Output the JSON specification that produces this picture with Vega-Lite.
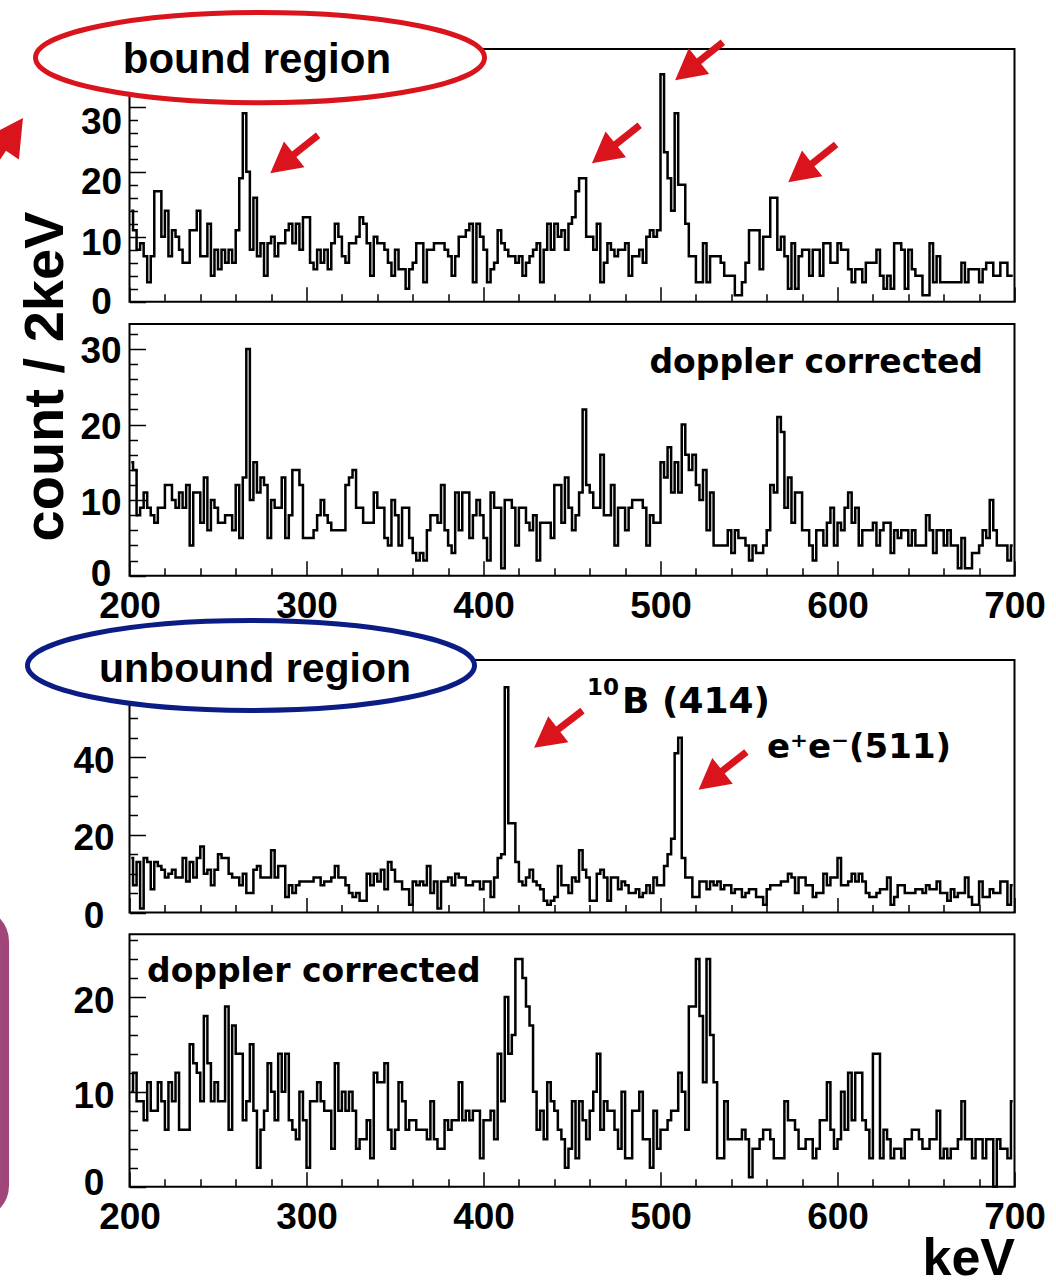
{
"$schema": "https://vega.github.io/schema/vega-lite/v6.json",
"width": 885, "height": 1137.7,
"autosize": {"type": "none"},
"padding": {"left": 129.5, "top": 49, "right": 41.5, "bottom": 99.3},
"background": "white",
"config": {
 "view": {"stroke": null},
 "axis": {"labelFont": "Liberation Sans", "labelFontWeight": "bold", "labelFontSize": 37, "labelColor": "black", "tickColor": "black", "tickWidth": 1.5, "domain": false, "grid": false, "labelOverlap": false, "labelFlush": false, "labelBound": false, "titleColor": "black"}
},
"datasets": {
"p1": [{"e":201,"c":14},{"e":203,"c":11},{"e":205,"c":8},{"e":207,"c":9},{"e":209,"c":7},{"e":211,"c":3},{"e":213,"c":7},{"e":215,"c":17},{"e":217,"c":17},{"e":219,"c":10},
{"e":221,"c":14},{"e":223,"c":7},{"e":225,"c":11},{"e":227,"c":10},{"e":229,"c":8},{"e":231,"c":6},{"e":233,"c":6},{"e":235,"c":11},{"e":237,"c":11},{"e":239,"c":14},
{"e":241,"c":7},{"e":243,"c":7},{"e":245,"c":12},{"e":247,"c":4},{"e":249,"c":8},{"e":251,"c":5},{"e":253,"c":8},{"e":255,"c":6},{"e":257,"c":8},{"e":259,"c":6},
{"e":261,"c":11},{"e":263,"c":19},{"e":265,"c":29},{"e":267,"c":20},{"e":269,"c":8},{"e":271,"c":16},{"e":273,"c":7},{"e":275,"c":9},{"e":277,"c":4},{"e":279,"c":9},
{"e":281,"c":10},{"e":283,"c":7},{"e":285,"c":9},{"e":287,"c":9},{"e":289,"c":11},{"e":291,"c":12},{"e":293,"c":9},{"e":295,"c":12},{"e":297,"c":8},{"e":299,"c":13},
{"e":301,"c":13},{"e":303,"c":6},{"e":305,"c":5},{"e":307,"c":8},{"e":309,"c":6},{"e":311,"c":8},{"e":313,"c":5},{"e":315,"c":9},{"e":317,"c":12},{"e":319,"c":10},
{"e":321,"c":7},{"e":323,"c":6},{"e":325,"c":9},{"e":327,"c":9},{"e":329,"c":10},{"e":331,"c":13},{"e":333,"c":12},{"e":335,"c":9},{"e":337,"c":4},{"e":339,"c":10},
{"e":341,"c":9},{"e":343,"c":9},{"e":345,"c":8},{"e":347,"c":6},{"e":349,"c":4},{"e":351,"c":8},{"e":353,"c":5},{"e":355,"c":5},{"e":357,"c":2},{"e":359,"c":5},
{"e":361,"c":6},{"e":363,"c":9},{"e":365,"c":9},{"e":367,"c":3},{"e":369,"c":8},{"e":371,"c":8},{"e":373,"c":9},{"e":375,"c":9},{"e":377,"c":9},{"e":379,"c":8},
{"e":381,"c":7},{"e":383,"c":4},{"e":385,"c":7},{"e":387,"c":10},{"e":389,"c":10},{"e":391,"c":11},{"e":393,"c":12},{"e":395,"c":3},{"e":397,"c":12},{"e":399,"c":10},
{"e":401,"c":8},{"e":403,"c":3},{"e":405,"c":5},{"e":407,"c":6},{"e":409,"c":11},{"e":411,"c":9},{"e":413,"c":8},{"e":415,"c":7},{"e":417,"c":7},{"e":419,"c":6},
{"e":421,"c":7},{"e":423,"c":4},{"e":425,"c":6},{"e":427,"c":7},{"e":429,"c":8},{"e":431,"c":9},{"e":433,"c":3},{"e":435,"c":8},{"e":437,"c":12},{"e":439,"c":8},
{"e":441,"c":12},{"e":443,"c":10},{"e":445,"c":11},{"e":447,"c":8},{"e":449,"c":12},{"e":451,"c":13},{"e":453,"c":17},{"e":455,"c":19},{"e":457,"c":19},{"e":459,"c":10},
{"e":461,"c":10},{"e":463,"c":8},{"e":465,"c":12},{"e":467,"c":3},{"e":469,"c":6},{"e":471,"c":9},{"e":473,"c":8},{"e":475,"c":7},{"e":477,"c":8},{"e":479,"c":8},
{"e":481,"c":9},{"e":483,"c":4},{"e":485,"c":7},{"e":487,"c":7},{"e":489,"c":8},{"e":491,"c":6},{"e":493,"c":10},{"e":495,"c":11},{"e":497,"c":10},{"e":499,"c":11},
{"e":501,"c":35},{"e":503,"c":23},{"e":505,"c":19},{"e":507,"c":14},{"e":509,"c":29},{"e":511,"c":18},{"e":513,"c":18},{"e":515,"c":12},{"e":517,"c":7},{"e":519,"c":7},
{"e":521,"c":3},{"e":523,"c":3},{"e":525,"c":9},{"e":527,"c":3},{"e":529,"c":7},{"e":531,"c":7},{"e":533,"c":7},{"e":535,"c":6},{"e":537,"c":4},{"e":539,"c":4},
{"e":541,"c":4},{"e":543,"c":1},{"e":545,"c":1},{"e":547,"c":3},{"e":549,"c":6},{"e":551,"c":11},{"e":553,"c":11},{"e":555,"c":11},{"e":557,"c":5},{"e":559,"c":10},
{"e":561,"c":10},{"e":563,"c":16},{"e":565,"c":16},{"e":567,"c":8},{"e":569,"c":10},{"e":571,"c":7},{"e":573,"c":2},{"e":575,"c":9},{"e":577,"c":2},{"e":579,"c":7},
{"e":581,"c":8},{"e":583,"c":8},{"e":585,"c":4},{"e":587,"c":8},{"e":589,"c":8},{"e":591,"c":4},{"e":593,"c":9},{"e":595,"c":9},{"e":597,"c":6},{"e":599,"c":6},
{"e":601,"c":9},{"e":603,"c":8},{"e":605,"c":8},{"e":607,"c":5},{"e":609,"c":3},{"e":611,"c":5},{"e":613,"c":5},{"e":615,"c":3},{"e":617,"c":6},{"e":619,"c":6},
{"e":621,"c":6},{"e":623,"c":8},{"e":625,"c":4},{"e":627,"c":2},{"e":629,"c":4},{"e":631,"c":2},{"e":633,"c":9},{"e":635,"c":9},{"e":637,"c":8},{"e":639,"c":2},
{"e":641,"c":8},{"e":643,"c":5},{"e":645,"c":4},{"e":647,"c":4},{"e":649,"c":1},{"e":651,"c":1},{"e":653,"c":9},{"e":655,"c":3},{"e":657,"c":7},{"e":659,"c":3},
{"e":661,"c":3},{"e":663,"c":3},{"e":665,"c":3},{"e":667,"c":3},{"e":669,"c":3},{"e":671,"c":6},{"e":673,"c":3},{"e":675,"c":5},{"e":677,"c":5},{"e":679,"c":5},
{"e":681,"c":3},{"e":683,"c":5},{"e":685,"c":6},{"e":687,"c":6},{"e":689,"c":4},{"e":691,"c":4},{"e":693,"c":6},{"e":695,"c":6},{"e":697,"c":4},{"e":699,"c":4}],
"p2": [{"e":201,"c":15},{"e":203,"c":14},{"e":205,"c":8},{"e":207,"c":9},{"e":209,"c":11},{"e":211,"c":9},{"e":213,"c":8},{"e":215,"c":7},{"e":217,"c":9},{"e":219,"c":9},
{"e":221,"c":12},{"e":223,"c":12},{"e":225,"c":10},{"e":227,"c":9},{"e":229,"c":11},{"e":231,"c":9},{"e":233,"c":12},{"e":235,"c":4},{"e":237,"c":11},{"e":239,"c":11},
{"e":241,"c":7},{"e":243,"c":13},{"e":245,"c":6},{"e":247,"c":10},{"e":249,"c":9},{"e":251,"c":7},{"e":253,"c":7},{"e":255,"c":8},{"e":257,"c":8},{"e":259,"c":6},
{"e":261,"c":12},{"e":263,"c":5},{"e":265,"c":13},{"e":267,"c":30},{"e":269,"c":10},{"e":271,"c":15},{"e":273,"c":11},{"e":275,"c":13},{"e":277,"c":12},{"e":279,"c":5},
{"e":281,"c":10},{"e":283,"c":9},{"e":285,"c":9},{"e":287,"c":13},{"e":289,"c":5},{"e":291,"c":8},{"e":293,"c":14},{"e":295,"c":14},{"e":297,"c":12},{"e":299,"c":5},
{"e":301,"c":5},{"e":303,"c":5},{"e":305,"c":6},{"e":307,"c":8},{"e":309,"c":10},{"e":311,"c":8},{"e":313,"c":7},{"e":315,"c":6},{"e":317,"c":6},{"e":319,"c":6},
{"e":321,"c":6},{"e":323,"c":12},{"e":325,"c":13},{"e":327,"c":14},{"e":329,"c":9},{"e":331,"c":9},{"e":333,"c":7},{"e":335,"c":7},{"e":337,"c":7},{"e":339,"c":11},
{"e":341,"c":9},{"e":343,"c":9},{"e":345,"c":5},{"e":347,"c":4},{"e":349,"c":10},{"e":351,"c":8},{"e":353,"c":4},{"e":355,"c":9},{"e":357,"c":9},{"e":359,"c":5},
{"e":361,"c":3},{"e":363,"c":2},{"e":365,"c":3},{"e":367,"c":2},{"e":369,"c":6},{"e":371,"c":8},{"e":373,"c":8},{"e":375,"c":7},{"e":377,"c":12},{"e":379,"c":6},
{"e":381,"c":4},{"e":383,"c":3},{"e":385,"c":11},{"e":387,"c":6},{"e":389,"c":11},{"e":391,"c":11},{"e":393,"c":5},{"e":395,"c":8},{"e":397,"c":10},{"e":399,"c":8},
{"e":401,"c":5},{"e":403,"c":2},{"e":405,"c":11},{"e":407,"c":9},{"e":409,"c":9},{"e":411,"c":1},{"e":413,"c":10},{"e":415,"c":10},{"e":417,"c":9},{"e":419,"c":4},
{"e":421,"c":9},{"e":423,"c":9},{"e":425,"c":7},{"e":427,"c":6},{"e":429,"c":8},{"e":431,"c":2},{"e":433,"c":7},{"e":435,"c":7},{"e":437,"c":7},{"e":439,"c":5},
{"e":441,"c":12},{"e":443,"c":12},{"e":445,"c":7},{"e":447,"c":13},{"e":449,"c":9},{"e":451,"c":6},{"e":453,"c":8},{"e":455,"c":11},{"e":457,"c":22},{"e":459,"c":12},
{"e":461,"c":11},{"e":463,"c":9},{"e":465,"c":9},{"e":467,"c":16},{"e":469,"c":8},{"e":471,"c":8},{"e":473,"c":12},{"e":475,"c":4},{"e":477,"c":9},{"e":479,"c":9},
{"e":481,"c":6},{"e":483,"c":9},{"e":485,"c":10},{"e":487,"c":10},{"e":489,"c":10},{"e":491,"c":9},{"e":493,"c":4},{"e":495,"c":8},{"e":497,"c":7},{"e":499,"c":7},
{"e":501,"c":15},{"e":503,"c":13},{"e":505,"c":17},{"e":507,"c":11},{"e":509,"c":15},{"e":511,"c":11},{"e":513,"c":20},{"e":515,"c":16},{"e":517,"c":14},{"e":519,"c":16},
{"e":521,"c":12},{"e":523,"c":10},{"e":525,"c":14},{"e":527,"c":6},{"e":529,"c":11},{"e":531,"c":4},{"e":533,"c":4},{"e":535,"c":4},{"e":537,"c":4},{"e":539,"c":6},
{"e":541,"c":3},{"e":543,"c":6},{"e":545,"c":5},{"e":547,"c":5},{"e":549,"c":4},{"e":551,"c":2},{"e":553,"c":4},{"e":555,"c":3},{"e":557,"c":3},{"e":559,"c":4},
{"e":561,"c":6},{"e":563,"c":12},{"e":565,"c":11},{"e":567,"c":21},{"e":569,"c":19},{"e":571,"c":9},{"e":573,"c":13},{"e":575,"c":7},{"e":577,"c":11},{"e":579,"c":11},
{"e":581,"c":6},{"e":583,"c":6},{"e":585,"c":4},{"e":587,"c":2},{"e":589,"c":6},{"e":591,"c":6},{"e":593,"c":4},{"e":595,"c":7},{"e":597,"c":9},{"e":599,"c":4},
{"e":601,"c":7},{"e":603,"c":6},{"e":605,"c":9},{"e":607,"c":11},{"e":609,"c":7},{"e":611,"c":9},{"e":613,"c":4},{"e":615,"c":6},{"e":617,"c":6},{"e":619,"c":6},
{"e":621,"c":7},{"e":623,"c":4},{"e":625,"c":6},{"e":627,"c":7},{"e":629,"c":7},{"e":631,"c":3},{"e":633,"c":6},{"e":635,"c":5},{"e":637,"c":6},{"e":639,"c":6},
{"e":641,"c":4},{"e":643,"c":6},{"e":645,"c":4},{"e":647,"c":4},{"e":649,"c":4},{"e":651,"c":8},{"e":653,"c":6},{"e":655,"c":3},{"e":657,"c":6},{"e":659,"c":6},
{"e":661,"c":4},{"e":663,"c":6},{"e":665,"c":4},{"e":667,"c":4},{"e":669,"c":1},{"e":671,"c":5},{"e":673,"c":1},{"e":675,"c":1},{"e":677,"c":3},{"e":679,"c":3},
{"e":681,"c":4},{"e":683,"c":6},{"e":685,"c":5},{"e":687,"c":10},{"e":689,"c":6},{"e":691,"c":4},{"e":693,"c":4},{"e":695,"c":4},{"e":697,"c":2},{"e":699,"c":4}],
"p3": [{"e":201,"c":14},{"e":203,"c":7},{"e":205,"c":13},{"e":207,"c":1},{"e":209,"c":14},{"e":211,"c":13},{"e":213,"c":6},{"e":215,"c":13},{"e":217,"c":12},{"e":219,"c":11},
{"e":221,"c":9},{"e":223,"c":10},{"e":225,"c":11},{"e":227,"c":9},{"e":229,"c":9},{"e":231,"c":14},{"e":233,"c":8},{"e":235,"c":13},{"e":237,"c":9},{"e":239,"c":14},
{"e":241,"c":17},{"e":243,"c":10},{"e":245,"c":11},{"e":247,"c":7},{"e":249,"c":11},{"e":251,"c":15},{"e":253,"c":14},{"e":255,"c":14},{"e":257,"c":10},{"e":259,"c":9},
{"e":261,"c":9},{"e":263,"c":7},{"e":265,"c":10},{"e":267,"c":5},{"e":269,"c":5},{"e":271,"c":11},{"e":273,"c":12},{"e":275,"c":9},{"e":277,"c":9},{"e":279,"c":9},
{"e":281,"c":16},{"e":283,"c":9},{"e":285,"c":12},{"e":287,"c":12},{"e":289,"c":4},{"e":291,"c":7},{"e":293,"c":5},{"e":295,"c":7},{"e":297,"c":8},{"e":299,"c":8},
{"e":301,"c":8},{"e":303,"c":8},{"e":305,"c":9},{"e":307,"c":9},{"e":309,"c":7},{"e":311,"c":8},{"e":313,"c":8},{"e":315,"c":9},{"e":317,"c":12},{"e":319,"c":9},
{"e":321,"c":9},{"e":323,"c":7},{"e":325,"c":5},{"e":327,"c":4},{"e":329,"c":5},{"e":331,"c":3},{"e":333,"c":3},{"e":335,"c":10},{"e":337,"c":7},{"e":339,"c":10},
{"e":341,"c":8},{"e":343,"c":11},{"e":345,"c":6},{"e":347,"c":13},{"e":349,"c":11},{"e":351,"c":8},{"e":353,"c":8},{"e":355,"c":6},{"e":357,"c":6},{"e":359,"c":2},
{"e":361,"c":8},{"e":363,"c":7},{"e":365,"c":8},{"e":367,"c":7},{"e":369,"c":12},{"e":371,"c":5},{"e":373,"c":8},{"e":375,"c":1},{"e":377,"c":8},{"e":379,"c":8},
{"e":381,"c":9},{"e":383,"c":7},{"e":385,"c":10},{"e":387,"c":9},{"e":389,"c":9},{"e":391,"c":7},{"e":393,"c":7},{"e":395,"c":8},{"e":397,"c":8},{"e":399,"c":6},
{"e":401,"c":8},{"e":403,"c":8},{"e":405,"c":4},{"e":407,"c":9},{"e":409,"c":14},{"e":411,"c":15},{"e":413,"c":58},{"e":415,"c":23},{"e":417,"c":23},{"e":419,"c":13},
{"e":421,"c":8},{"e":423,"c":7},{"e":425,"c":9},{"e":427,"c":11},{"e":429,"c":8},{"e":431,"c":7},{"e":433,"c":6},{"e":435,"c":3},{"e":437,"c":2},{"e":439,"c":3},
{"e":441,"c":4},{"e":443,"c":12},{"e":445,"c":7},{"e":447,"c":7},{"e":449,"c":5},{"e":451,"c":9},{"e":453,"c":8},{"e":455,"c":16},{"e":457,"c":11},{"e":459,"c":9},
{"e":461,"c":3},{"e":463,"c":3},{"e":465,"c":10},{"e":467,"c":11},{"e":469,"c":9},{"e":471,"c":3},{"e":473,"c":9},{"e":475,"c":9},{"e":477,"c":6},{"e":479,"c":8},
{"e":481,"c":7},{"e":483,"c":5},{"e":485,"c":5},{"e":487,"c":6},{"e":489,"c":4},{"e":491,"c":5},{"e":493,"c":7},{"e":495,"c":5},{"e":497,"c":9},{"e":499,"c":7},
{"e":501,"c":7},{"e":503,"c":12},{"e":505,"c":15},{"e":507,"c":19},{"e":509,"c":41},{"e":511,"c":45},{"e":513,"c":14},{"e":515,"c":9},{"e":517,"c":9},{"e":519,"c":4},
{"e":521,"c":4},{"e":523,"c":8},{"e":525,"c":8},{"e":527,"c":6},{"e":529,"c":8},{"e":531,"c":7},{"e":533,"c":8},{"e":535,"c":6},{"e":537,"c":7},{"e":539,"c":7},
{"e":541,"c":5},{"e":543,"c":6},{"e":545,"c":6},{"e":547,"c":4},{"e":549,"c":5},{"e":551,"c":6},{"e":553,"c":6},{"e":555,"c":4},{"e":557,"c":4},{"e":559,"c":2},
{"e":561,"c":6},{"e":563,"c":7},{"e":565,"c":7},{"e":567,"c":7},{"e":569,"c":8},{"e":571,"c":8},{"e":573,"c":10},{"e":575,"c":9},{"e":577,"c":5},{"e":579,"c":9},
{"e":581,"c":9},{"e":583,"c":7},{"e":585,"c":7},{"e":587,"c":4},{"e":589,"c":5},{"e":591,"c":5},{"e":593,"c":10},{"e":595,"c":7},{"e":597,"c":9},{"e":599,"c":9},
{"e":601,"c":14},{"e":603,"c":7},{"e":605,"c":7},{"e":607,"c":8},{"e":609,"c":10},{"e":611,"c":8},{"e":613,"c":10},{"e":615,"c":8},{"e":617,"c":5},{"e":619,"c":4},
{"e":621,"c":4},{"e":623,"c":5},{"e":625,"c":6},{"e":627,"c":6},{"e":629,"c":9},{"e":631,"c":2},{"e":633,"c":4},{"e":635,"c":7},{"e":637,"c":7},{"e":639,"c":5},
{"e":641,"c":5},{"e":643,"c":5},{"e":645,"c":6},{"e":647,"c":6},{"e":649,"c":5},{"e":651,"c":7},{"e":653,"c":6},{"e":655,"c":6},{"e":657,"c":8},{"e":659,"c":5},
{"e":661,"c":5},{"e":663,"c":3},{"e":665,"c":6},{"e":667,"c":4},{"e":669,"c":5},{"e":671,"c":5},{"e":673,"c":9},{"e":675,"c":4},{"e":677,"c":2},{"e":679,"c":2},
{"e":681,"c":8},{"e":683,"c":4},{"e":685,"c":4},{"e":687,"c":6},{"e":689,"c":5},{"e":691,"c":5},{"e":693,"c":8},{"e":695,"c":8},{"e":697,"c":2},{"e":699,"c":7}],
"p4": [{"e":201,"c":10},{"e":203,"c":12},{"e":205,"c":9},{"e":207,"c":9},{"e":209,"c":7},{"e":211,"c":11},{"e":213,"c":8},{"e":215,"c":8},{"e":217,"c":11},{"e":219,"c":9},
{"e":221,"c":6},{"e":223,"c":11},{"e":225,"c":9},{"e":227,"c":12},{"e":229,"c":6},{"e":231,"c":6},{"e":233,"c":6},{"e":235,"c":15},{"e":237,"c":13},{"e":239,"c":12},
{"e":241,"c":9},{"e":243,"c":18},{"e":245,"c":13},{"e":247,"c":9},{"e":249,"c":11},{"e":251,"c":9},{"e":253,"c":9},{"e":255,"c":19},{"e":257,"c":6},{"e":259,"c":17},
{"e":261,"c":14},{"e":263,"c":14},{"e":265,"c":7},{"e":267,"c":9},{"e":269,"c":15},{"e":271,"c":8},{"e":273,"c":2},{"e":275,"c":6},{"e":277,"c":8},{"e":279,"c":13},
{"e":281,"c":10},{"e":283,"c":7},{"e":285,"c":14},{"e":287,"c":10},{"e":289,"c":14},{"e":291,"c":7},{"e":293,"c":6},{"e":295,"c":5},{"e":297,"c":10},{"e":299,"c":7},
{"e":301,"c":2},{"e":303,"c":9},{"e":305,"c":9},{"e":307,"c":11},{"e":309,"c":9},{"e":311,"c":8},{"e":313,"c":8},{"e":315,"c":4},{"e":317,"c":13},{"e":319,"c":8},
{"e":321,"c":10},{"e":323,"c":8},{"e":325,"c":10},{"e":327,"c":8},{"e":329,"c":4},{"e":331,"c":5},{"e":333,"c":5},{"e":335,"c":7},{"e":337,"c":3},{"e":339,"c":12},
{"e":341,"c":11},{"e":343,"c":11},{"e":345,"c":13},{"e":347,"c":6},{"e":349,"c":4},{"e":351,"c":6},{"e":353,"c":11},{"e":355,"c":9},{"e":357,"c":6},{"e":359,"c":7},
{"e":361,"c":7},{"e":363,"c":6},{"e":365,"c":6},{"e":367,"c":6},{"e":369,"c":5},{"e":371,"c":9},{"e":373,"c":5},{"e":375,"c":4},{"e":377,"c":4},{"e":379,"c":7},
{"e":381,"c":6},{"e":383,"c":7},{"e":385,"c":7},{"e":387,"c":11},{"e":389,"c":7},{"e":391,"c":8},{"e":393,"c":7},{"e":395,"c":8},{"e":397,"c":8},{"e":399,"c":3},
{"e":401,"c":7},{"e":403,"c":7},{"e":405,"c":8},{"e":407,"c":5},{"e":409,"c":14},{"e":411,"c":9},{"e":413,"c":20},{"e":415,"c":14},{"e":417,"c":16},{"e":419,"c":24},
{"e":421,"c":24},{"e":423,"c":22},{"e":425,"c":19},{"e":427,"c":17},{"e":429,"c":10},{"e":431,"c":6},{"e":433,"c":8},{"e":435,"c":5},{"e":437,"c":11},{"e":439,"c":9},
{"e":441,"c":8},{"e":443,"c":6},{"e":445,"c":5},{"e":447,"c":2},{"e":449,"c":4},{"e":451,"c":9},{"e":453,"c":3},{"e":455,"c":9},{"e":457,"c":7},{"e":459,"c":5},
{"e":461,"c":8},{"e":463,"c":10},{"e":465,"c":14},{"e":467,"c":6},{"e":469,"c":9},{"e":471,"c":8},{"e":473,"c":8},{"e":475,"c":6},{"e":477,"c":4},{"e":479,"c":10},
{"e":481,"c":3},{"e":483,"c":3},{"e":485,"c":8},{"e":487,"c":8},{"e":489,"c":10},{"e":491,"c":5},{"e":493,"c":5},{"e":495,"c":2},{"e":497,"c":8},{"e":499,"c":4},
{"e":501,"c":6},{"e":503,"c":6},{"e":505,"c":7},{"e":507,"c":8},{"e":509,"c":8},{"e":511,"c":12},{"e":513,"c":10},{"e":515,"c":6},{"e":517,"c":19},{"e":519,"c":19},
{"e":521,"c":24},{"e":523,"c":18},{"e":525,"c":11},{"e":527,"c":24},{"e":529,"c":16},{"e":531,"c":11},{"e":533,"c":3},{"e":535,"c":3},{"e":537,"c":9},{"e":539,"c":5},
{"e":541,"c":5},{"e":543,"c":5},{"e":545,"c":5},{"e":547,"c":6},{"e":549,"c":5},{"e":551,"c":1},{"e":553,"c":4},{"e":555,"c":4},{"e":557,"c":5},{"e":559,"c":6},
{"e":561,"c":6},{"e":563,"c":5},{"e":565,"c":3},{"e":567,"c":3},{"e":569,"c":3},{"e":571,"c":9},{"e":573,"c":7},{"e":575,"c":7},{"e":577,"c":6},{"e":579,"c":4},
{"e":581,"c":4},{"e":583,"c":5},{"e":585,"c":5},{"e":587,"c":3},{"e":589,"c":4},{"e":591,"c":7},{"e":593,"c":7},{"e":595,"c":11},{"e":597,"c":6},{"e":599,"c":4},
{"e":601,"c":5},{"e":603,"c":10},{"e":605,"c":6},{"e":607,"c":12},{"e":609,"c":7},{"e":611,"c":12},{"e":613,"c":12},{"e":615,"c":7},{"e":617,"c":6},{"e":619,"c":3},
{"e":621,"c":14},{"e":623,"c":14},{"e":625,"c":3},{"e":627,"c":6},{"e":629,"c":5},{"e":631,"c":3},{"e":633,"c":4},{"e":635,"c":4},{"e":637,"c":3},{"e":639,"c":5},
{"e":641,"c":5},{"e":643,"c":6},{"e":645,"c":6},{"e":647,"c":5},{"e":649,"c":4},{"e":651,"c":4},{"e":653,"c":5},{"e":655,"c":5},{"e":657,"c":8},{"e":659,"c":3},
{"e":661,"c":4},{"e":663,"c":3},{"e":665,"c":4},{"e":667,"c":4},{"e":669,"c":5},{"e":671,"c":9},{"e":673,"c":5},{"e":675,"c":5},{"e":677,"c":3},{"e":679,"c":5},
{"e":681,"c":5},{"e":683,"c":3},{"e":685,"c":5},{"e":687,"c":5},{"e":689,"c":0},{"e":691,"c":5},{"e":693,"c":4},{"e":695,"c":4},{"e":697,"c":3},{"e":699,"c":9}]
},
"layer": [
 {
  "layer": [
   {"data": {"values": [{}]}, "mark": {"type": "rect", "filled": false, "color": "black", "strokeWidth": 2},
    "encoding": {"x": {"datum": 200, "type": "quantitative"}, "x2": {"datum": 700}, "y": {"datum": 0, "type": "quantitative"}, "y2": {"datum": 38.9}}},
   {"data": {"name": "p1"}, "mark": {"type": "line", "interpolate": "step", "color": "black", "strokeWidth": 2.5},
    "encoding": {
     "x": {"field": "e", "type": "quantitative", "scale": {"domain": [200, 700], "nice": false, "zero": false},
       "axis": {"orient": "bottom", "offset": -885, "tickCount": 200, "format": "d", "values": [200,220,240,260,280,300,320,340,360,380,400,420,440,460,480,500,520,540,560,580,600,620,640,660,680,700], "labels": false, "title": null, "labelOverlap": false,
         "tickSize": {"condition": {"test": "datum.value % 100 === 0", "value": -15}, "value": -8}}},
     "y": {"field": "c", "type": "quantitative", "scale": {"domain": [0, 38.9], "range": [252.7, 0], "nice": false, "zero": false},
       "axis": {"orient": "left", "tickCount": 200, "format": "d", "values": [0,2,4,6,8,10,12,14,16,18,20,22,24,26,28,30,32,34,36,38], "labelOverlap": false,
         "labelExpr": "datum.value % 10 === 0 ? datum.label : ''", "labelPadding": 44.5, "labelAlign": "center", "labelBaseline": "middle",
         "labelOffset": {"condition": [{"test": "datum.value === 30", "value": 16}, {"test": "datum.value === 20", "value": 11}, {"test": "datum.value === 10", "value": 7}], "value": 1},
         "tickSize": {"condition": {"test": "datum.value % 10 === 0", "value": -16}, "value": -8},
         "title": "count / 2keV", "titleFont": "Liberation Sans", "titleFontWeight": "bold", "titleFontSize": 56, "titleAngle": 270, "titleX": -67.5, "titleY": 327, "titleAlign": "center", "titleBaseline": "alphabetic"}}
    }},
   {"data": {"values": [{}]}, "mark": {"type": "point", "shape": "M 1 0 C 1 0.111 0.5523 0.2009 0 0.2009 C -0.5523 0.2009 -1 0.111 -1 0 C -1 -0.111 -0.5523 -0.2009 0 -0.2009 C 0.5523 -0.2009 1 -0.111 1 0 Z", "size": 201601, "filled": true, "fill": "white", "stroke": "#d9141c", "strokeWidth": 5, "opacity": 1},
    "encoding": {"x": {"datum": 273.73, "type": "quantitative"}, "y": {"datum": 37.57, "type": "quantitative"}}},
   {"data": {"values": [{}]}, "mark": {"type": "text", "text": "bound region", "font": "Liberation Sans", "fontWeight": "bold", "fontSize": 42, "align": "center", "baseline": "alphabetic", "color": "black"},
    "encoding": {"x": {"datum": 272, "type": "quantitative"}, "y": {"datum": 35.14, "type": "quantitative"}}},
   {"data": {"values": [{}]}, "mark": {"type": "point", "shape": "M -1 -0.115 L 0 -0.115 L 0 -0.54 L 1 0 L 0 0.54 L 0 0.115 L -1 0.115 Z", "size": 3721, "angle": 141.6, "filled": true, "color": "#d9141c", "opacity": 1},
    "encoding": {"x": {"datum": 293.05, "type": "quantitative"}, "y": {"datum": 22.69, "type": "quantitative"}}},
   {"data": {"values": [{}]}, "mark": {"type": "point", "shape": "M -1 -0.115 L 0 -0.115 L 0 -0.54 L 1 0 L 0 0.54 L 0 0.115 L -1 0.115 Z", "size": 3721, "angle": 141.6, "filled": true, "color": "#d9141c", "opacity": 1},
    "encoding": {"x": {"datum": 474.75, "type": "quantitative"}, "y": {"datum": 24.23, "type": "quantitative"}}},
   {"data": {"values": [{}]}, "mark": {"type": "point", "shape": "M -1 -0.115 L 0 -0.115 L 0 -0.54 L 1 0 L 0 0.54 L 0 0.115 L -1 0.115 Z", "size": 3721, "angle": 141.5, "filled": true, "color": "#d9141c", "opacity": 1},
    "encoding": {"x": {"datum": 521.75, "type": "quantitative"}, "y": {"datum": 37.03, "type": "quantitative"}}},
   {"data": {"values": [{}]}, "mark": {"type": "point", "shape": "M -1 -0.115 L 0 -0.115 L 0 -0.54 L 1 0 L 0 0.54 L 0 0.115 L -1 0.115 Z", "size": 3721, "angle": 141.7, "filled": true, "color": "#d9141c", "opacity": 1},
    "encoding": {"x": {"datum": 585.7, "type": "quantitative"}, "y": {"datum": 21.29, "type": "quantitative"}}},
   {"data": {"values": [{}]}, "mark": {"type": "point", "shape": "M -1 -0.115 L 0 -0.115 L 0 -0.54 L 1 0 L 0 0.54 L 0 0.115 L -1 0.115 Z", "size": 5358, "angle": -56, "filled": true, "color": "#d9141c", "opacity": 1},
    "encoding": {"x": {"datum": 128.25, "type": "quantitative"}, "y": {"datum": 23.6, "type": "quantitative"}}}
  ]
 },
 {
  "layer": [
   {"data": {"values": [{}]}, "mark": {"type": "rect", "filled": false, "color": "black", "strokeWidth": 2},
    "encoding": {"x": {"datum": 200, "type": "quantitative"}, "x2": {"datum": 700}, "y": {"datum": 0, "type": "quantitative"}, "y2": {"datum": 33.3}}},
   {"data": {"name": "p2"}, "mark": {"type": "line", "interpolate": "step", "color": "black", "strokeWidth": 2.5},
    "encoding": {
     "x": {"field": "e", "type": "quantitative", "scale": {"domain": [200, 700], "nice": false, "zero": false},
       "axis": {"orient": "bottom", "offset": -611, "tickCount": 200, "format": "d", "values": [200,220,240,260,280,300,320,340,360,380,400,420,440,460,480,500,520,540,560,580,600,620,640,660,680,700], "labelOverlap": false,
         "labelExpr": "datum.value % 100 === 0 ? datum.label : ''", "labelPadding": 28, "labelBaseline": "top", "title": null,
         "tickSize": {"condition": {"test": "datum.value % 100 === 0", "value": -15}, "value": -8}}},
     "y": {"field": "c", "type": "quantitative", "scale": {"domain": [0, 33.3], "range": [526.7, 275], "nice": false, "zero": false},
       "axis": {"orient": "left", "tickCount": 200, "format": "d", "values": [0,2,4,6,8,10,12,14,16,18,20,22,24,26,28,30,32], "labelOverlap": false,
         "labelExpr": "datum.value % 10 === 0 ? datum.label : ''", "labelPadding": 45, "labelAlign": "center", "labelBaseline": "middle",
         "labelOffset": {"condition": {"test": "datum.value === 0", "value": -1}, "value": 3},
         "tickSize": {"condition": {"test": "datum.value % 10 === 0", "value": -16}, "value": -8}, "title": null}}
    }},
   {"data": {"values": [{}]}, "mark": {"type": "text", "text": "doppler corrected", "font": "DejaVu Sans", "fontWeight": "bold", "fontSize": 33, "align": "right", "baseline": "alphabetic", "color": "black"},
    "encoding": {"x": {"datum": 682.2, "type": "quantitative"}, "y": {"datum": 26.85, "type": "quantitative"}}}
  ]
 },
 {
  "layer": [
   {"data": {"values": [{}]}, "mark": {"type": "rect", "filled": false, "color": "black", "strokeWidth": 2},
    "encoding": {"x": {"datum": 200, "type": "quantitative"}, "x2": {"datum": 700}, "y": {"datum": 0, "type": "quantitative"}, "y2": {"datum": 65}}},
   {"data": {"name": "p3"}, "mark": {"type": "line", "interpolate": "step", "color": "black", "strokeWidth": 2.5},
    "encoding": {
     "x": {"field": "e", "type": "quantitative", "scale": {"domain": [200, 700], "nice": false, "zero": false},
       "axis": {"orient": "bottom", "offset": -274.2, "tickCount": 200, "format": "d", "values": [200,220,240,260,280,300,320,340,360,380,400,420,440,460,480,500,520,540,560,580,600,620,640,660,680,700], "labels": false, "title": null, "labelOverlap": false,
         "tickSize": {"condition": {"test": "datum.value % 100 === 0", "value": -15}, "value": -8}}},
     "y": {"field": "c", "type": "quantitative", "scale": {"domain": [0, 65], "range": [863.5, 611], "nice": false, "zero": false},
       "axis": {"orient": "left", "tickCount": 200, "format": "d", "values": [0,5,10,15,20,25,30,35,40,45,50,55,60,65], "labelOverlap": false,
         "labelExpr": "datum.value % 20 === 0 && datum.value < 50 ? datum.label : ''", "labelPadding": 52, "labelAlign": "center", "labelBaseline": "middle", "labelOffset": 4,
         "tickSize": {"condition": {"test": "datum.value % 20 === 0", "value": -16}, "value": -8}, "title": null}}
    }},
   {"data": {"values": [{}]}, "mark": {"type": "point", "shape": "M 1 0 C 1 0.111 0.5523 0.2009 0 0.2009 C -0.5523 0.2009 -1 0.111 -1 0 C -1 -0.111 -0.5523 -0.2009 0 -0.2009 C 0.5523 -0.2009 1 -0.111 1 0 Z", "size": 199809, "filled": true, "fill": "white", "stroke": "#0b1d84", "strokeWidth": 5, "opacity": 1},
    "encoding": {"x": {"datum": 268.64, "type": "quantitative"}, "y": {"datum": 63.58, "type": "quantitative"}}},
   {"data": {"values": [{}]}, "mark": {"type": "text", "text": "unbound region", "font": "Liberation Sans", "fontWeight": "bold", "fontSize": 41, "align": "center", "baseline": "alphabetic", "color": "black"},
    "encoding": {"x": {"datum": 270.9, "type": "quantitative"}, "y": {"datum": 59.4, "type": "quantitative"}}},
   {"data": {"values": [{}]}, "mark": {"type": "text", "text": "10", "font": "DejaVu Sans", "fontWeight": "bold", "fontSize": 23, "align": "left", "baseline": "alphabetic", "color": "black"},
    "encoding": {"x": {"datum": 458.5, "type": "quantitative"}, "y": {"datum": 55.98, "type": "quantitative"}}},
   {"data": {"values": [{}]}, "mark": {"type": "text", "text": "B (414)", "font": "DejaVu Sans", "fontWeight": "bold", "fontSize": 36, "align": "left", "baseline": "alphabetic", "color": "black"},
    "encoding": {"x": {"datum": 478.25, "type": "quantitative"}, "y": {"datum": 51.35, "type": "quantitative"}}},
   {"data": {"values": [{}]}, "mark": {"type": "text", "text": "e⁺e⁻(511)", "font": "DejaVu Sans", "fontWeight": "bold", "fontSize": 34, "align": "left", "baseline": "alphabetic", "color": "black"},
    "encoding": {"x": {"datum": 560.2, "type": "quantitative"}, "y": {"datum": 39.7, "type": "quantitative"}}},
   {"data": {"values": [{}]}, "mark": {"type": "point", "shape": "M -1 -0.115 L 0 -0.115 L 0 -0.54 L 1 0 L 0 0.54 L 0 0.115 L -1 0.115 Z", "size": 3721, "angle": 142.5, "filled": true, "color": "#d9141c", "opacity": 1},
    "encoding": {"x": {"datum": 442.26, "type": "quantitative"}, "y": {"datum": 47.18, "type": "quantitative"}}},
   {"data": {"values": [{}]}, "mark": {"type": "point", "shape": "M -1 -0.115 L 0 -0.115 L 0 -0.54 L 1 0 L 0 0.54 L 0 0.115 L -1 0.115 Z", "size": 3721, "angle": 141.6, "filled": true, "color": "#d9141c", "opacity": 1},
    "encoding": {"x": {"datum": 535.03, "type": "quantitative"}, "y": {"datum": 36.47, "type": "quantitative"}}}
  ]
 },
 {
  "layer": [
   {"data": {"values": [{}]}, "mark": {"type": "rect", "filled": false, "color": "black", "strokeWidth": 2},
    "encoding": {"x": {"datum": 200, "type": "quantitative"}, "x2": {"datum": 700}, "y": {"datum": 0, "type": "quantitative"}, "y2": {"datum": 26.6}}},
   {"data": {"name": "p4"}, "mark": {"type": "line", "interpolate": "step", "color": "black", "strokeWidth": 2.5},
    "encoding": {
     "x": {"field": "e", "type": "quantitative", "scale": {"domain": [200, 700], "nice": false, "zero": false},
       "axis": {"orient": "bottom", "offset": 0, "tickCount": 200, "format": "d", "values": [200,220,240,260,280,300,320,340,360,380,400,420,440,460,480,500,520,540,560,580,600,620,640,660,680,700], "labelOverlap": false,
         "labelExpr": "datum.value % 100 === 0 ? datum.label : ''", "labelPadding": 28, "labelBaseline": "top",
         "tickSize": {"condition": {"test": "datum.value % 100 === 0", "value": -15}, "value": -8},
         "title": "keV", "titleFont": "Liberation Sans", "titleFontWeight": "bold", "titleFontSize": 52, "titleX": 885, "titleY": 87.5, "titleAlign": "right", "titleBaseline": "alphabetic"}},
     "y": {"field": "c", "type": "quantitative", "scale": {"domain": [0, 26.6], "range": [1137.7, 885.3], "nice": false, "zero": false},
       "axis": {"orient": "left", "tickCount": 200, "format": "d", "values": [0,2,4,6,8,10,12,14,16,18,20,22,24,26], "labelOverlap": false,
         "labelExpr": "datum.value % 10 === 0 ? datum.label : ''", "labelPadding": 52, "labelAlign": "center", "labelBaseline": "middle",
         "labelOffset": {"condition": {"test": "datum.value === 0", "value": -3}, "value": 5},
         "tickSize": {"condition": {"test": "datum.value % 10 === 0", "value": -16}, "value": -8}, "title": null}}
    }},
   {"data": {"values": [{}]}, "mark": {"type": "text", "text": "doppler corrected", "font": "DejaVu Sans", "fontWeight": "bold", "fontSize": 33, "align": "left", "baseline": "alphabetic", "color": "black"},
    "encoding": {"x": {"datum": 209.9, "type": "quantitative"}, "y": {"datum": 21.62, "type": "quantitative"}}},
   {"data": {"values": [{}]}, "mark": {"type": "rect", "filled": false, "color": "#a0467a", "strokeWidth": 9, "cornerRadius": 30},
    "encoding": {"x": {"datum": 0, "type": "quantitative"}, "x2": {"datum": 129.4}, "y": {"datum": -3.0, "type": "quantitative"}, "y2": {"datum": 28.98}}}
  ]
 }
],
"resolve": {"scale": {"x": "independent", "y": "independent"}, "axis": {"x": "independent", "y": "independent"}}
}
